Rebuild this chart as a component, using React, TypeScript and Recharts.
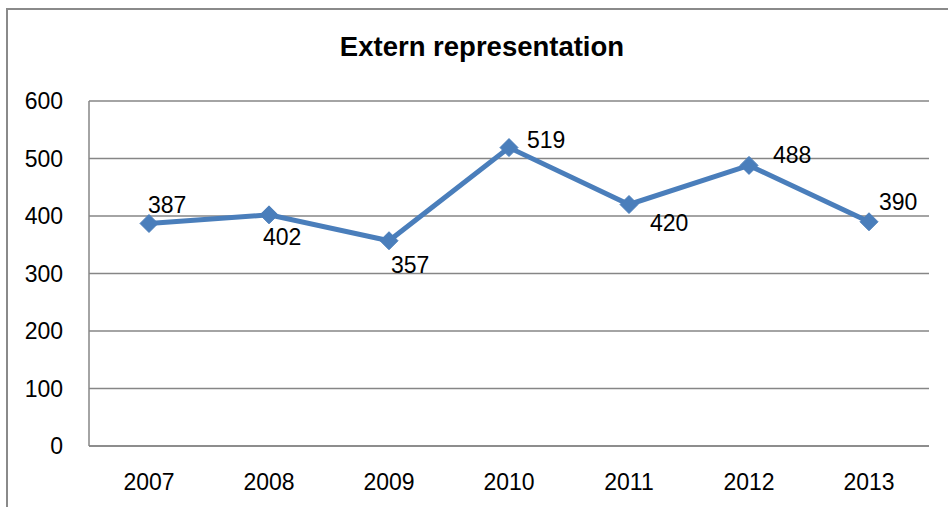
import React from "react";
import { LineChart, Line, XAxis, YAxis, CartesianGrid } from "recharts";

const years = ["2007", "2008", "2009", "2010", "2011", "2012", "2013"];
const values = [387, 402, 357, 519, 420, 488, 390];
const yTicks = [0, 100, 200, 300, 400, 500, 600];
const title = "Extern representation";

// label placement relative to point: [dx to text left, dy to baseline]
const labelOffsets: [number, number][] = [
  [-1, -10],
  [-6, 30],
  [2, 32],
  [18, 0],
  [21, 26],
  [24, -2],
  [10, -12],
];

const data = years.map((y, i) => ({ year: y, value: values[i] }));

const FONT = "'Liberation Sans', Arial, sans-serif";
const LINE = "#4A7EBB";
const GRID = "#868686";

const Diamond = (props: any) => {
  const { cx, cy } = props;
  if (cx == null || cy == null) return null;
  const r = 9;
  return (
    <path
      d={`M${cx},${cy - r}L${cx + r},${cy}L${cx},${cy + r}L${cx - r},${cy}Z`}
      fill={LINE}
      stroke={LINE}
      strokeWidth={1}
    />
  );
};

const PointLabel = (props: any) => {
  const { x, y, index, value } = props;
  const off = labelOffsets[index] || [0, 0];
  return (
    <text
      x={x + off[0]}
      y={y + off[1]}
      fontFamily={FONT}
      fontSize={23}
      fill="#000"
      textAnchor="start"
    >
      {value}
    </text>
  );
};

export default function App() {
  return (
    <div style={{ position: "absolute", left: 0, top: 0, width: 948, height: 507, background: "#fff", overflow: "hidden" }}>
      <div
        style={{
          position: "absolute",
          left: 6,
          top: 8,
          width: 960,
          height: 520,
          border: "2px solid #8a8a8a",
          boxSizing: "border-box",
        }}
      />
      <div
        style={{
          position: "absolute",
          left: 0,
          top: 31,
          width: 964,
          textAlign: "center",
          fontFamily: FONT,
          fontWeight: "bold",
          fontSize: 27.5,
          lineHeight: "32px",
          color: "#000",
        }}
      >
        {title}
      </div>
      <div style={{ position: "absolute", left: 0, top: 0 }}>
        <LineChart
          width={948}
          height={507}
          data={data}
          margin={{ top: 101, right: 19, left: 0, bottom: 0 }}
        >
          <CartesianGrid vertical={false} stroke={GRID} strokeWidth={1.5} />
          <XAxis
            dataKey="year"
            axisLine={{ stroke: GRID, strokeWidth: 1.5 }}
            tickLine={false}
            tickSize={0}
            tickMargin={28}
            padding={{ left: 60, right: 60 }}
            tick={{ fill: "#000", fontSize: 23, fontFamily: FONT }}
            height={61}
          />
          <YAxis
            domain={[0, 600]}
            ticks={yTicks}
            interval={0}
            width={89}
            axisLine={{ stroke: GRID, strokeWidth: 1.5 }}
            tickLine={false}
            tickSize={0}
            tickMargin={26}
            tick={{ fill: "#000", fontSize: 23, fontFamily: FONT }}
          />
          <Line
            type="linear"
            dataKey="value"
            stroke={LINE}
            strokeWidth={5}
            dot={<Diamond />}
            activeDot={false}
            isAnimationActive={false}
            label={<PointLabel />}
          />
        </LineChart>
      </div>
    </div>
  );
}
